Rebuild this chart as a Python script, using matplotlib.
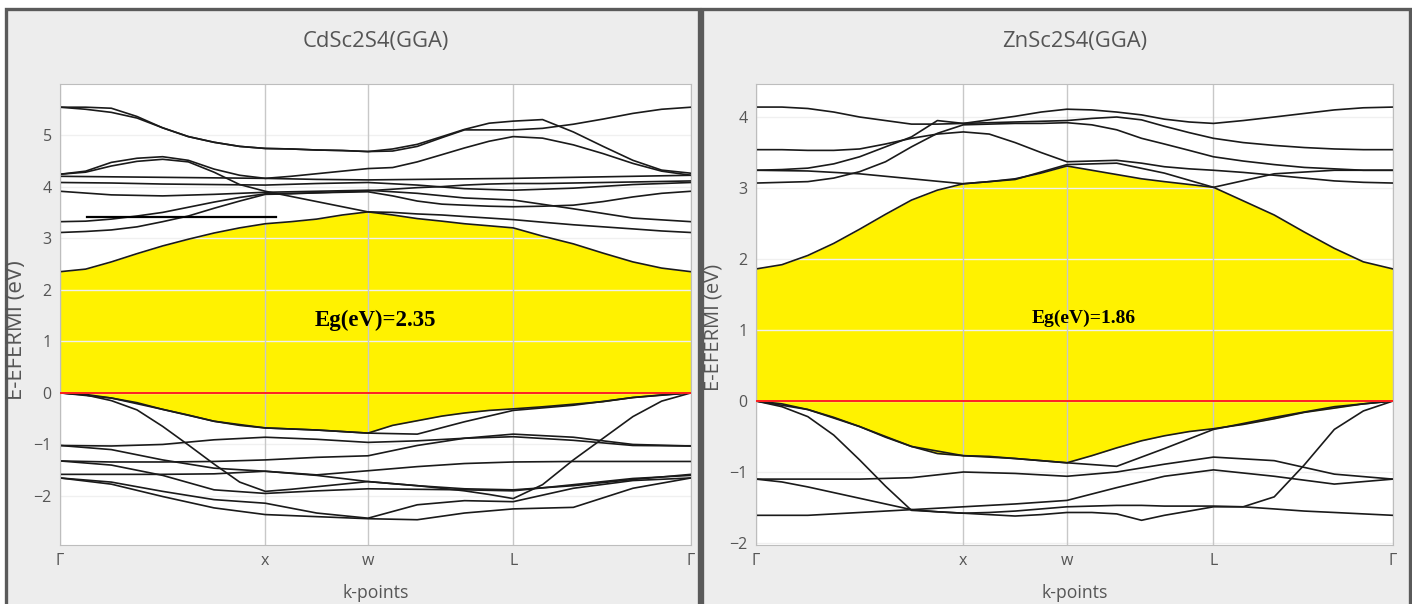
import matplotlib
matplotlib.use("Agg")
import matplotlib.pyplot as plt
from matplotlib.patches import Rectangle

# ---------------------------------------------------------------------------
# k-path (fcc): Γ - X - W - L - Γ, in units of 2π/a
kpath_labels = ["Γ", "x", "w", "L", "Γ"]
kpath_pos = [0.0, 1.0, 1.5, 2.207, 3.073]
# coarse sampling (13 points) and fine sampling (25 points) along the path
k_samples = [0.0, 0.25, 0.5, 0.75, 1.0, 1.25, 1.5, 1.74, 1.97, 2.207, 2.5, 2.79, 3.073]
k_fine = [0.0, 0.125, 0.25, 0.375, 0.5, 0.625, 0.75, 0.875, 1.0, 1.125, 1.25, 1.375,
          1.5, 1.62, 1.74, 1.86, 1.97, 2.09, 2.207, 2.35, 2.5, 2.645, 2.79, 2.93, 3.073]

# ---------------------------------------------------------------------------
# CdSc2S4 (GGA) band energies, E - E_F in eV
cd_cbm = [2.35, 2.40, 2.54, 2.70, 2.85, 2.98, 3.10, 3.20, 3.28, 3.32, 3.37, 3.45, 3.51,
          3.45, 3.38, 3.33, 3.28, 3.24, 3.20, 3.04, 2.89, 2.71, 2.54, 2.42, 2.35]
cd_vbm = [0.0, -0.03, -0.10, -0.19, -0.32, -0.43, -0.55, -0.63, -0.68, -0.70, -0.72, -0.75,
          -0.78, -0.63, -0.54, -0.45, -0.39, -0.34, -0.31, -0.27, -0.22, -0.17, -0.09, -0.04, 0.0]
cd_conduction = [
    [5.54, 5.54, 5.52, 5.36, 5.14, 4.97, 4.86, 4.78, 4.74, 4.73, 4.71, 4.70, 4.68,
     4.69, 4.78, 4.95, 5.10, 5.10, 5.10, 5.13, 5.21, 5.31, 5.42, 5.50, 5.54],
    [5.54, 5.50, 5.44, 5.33, 5.14, 4.97, 4.86, 4.78, 4.74, 4.73, 4.71, 4.70, 4.68,
     4.73, 4.82, 4.97, 5.11, 5.23, 5.27, 5.30, 5.06, 4.78, 4.51, 4.32, 4.26],
    [4.24, 4.30, 4.47, 4.55, 4.58, 4.51, 4.34, 4.22, 4.16, 4.20, 4.25, 4.30, 4.35,
     4.37, 4.48, 4.62, 4.75, 4.88, 4.97, 4.94, 4.81, 4.64, 4.45, 4.30, 4.22],
    [4.24, 4.28, 4.40, 4.49, 4.53, 4.48, 4.28, 4.04, 3.91, 3.81, 3.71, 3.61, 3.51,
     3.50, 3.47, 3.45, 3.42, 3.39, 3.36, 3.31, 3.26, 3.22, 3.18, 3.14, 3.11],
    [4.20, 4.19, 4.18, 4.17, 4.16, 4.14, 4.13, 4.14, 4.15, 4.16, 4.18, 4.20, 4.22],
    [4.08, 4.07, 4.05, 4.04, 4.03, 4.06, 4.08, 4.03, 3.96, 3.93, 3.97, 4.04, 4.08],
    [3.91, 3.84, 3.82, 3.85, 3.89, 3.91, 3.93, 3.87, 3.78, 3.74, 3.57, 3.39, 3.32],
    [3.32, 3.33, 3.37, 3.43, 3.50, 3.60, 3.70, 3.79, 3.86, 3.87, 3.88, 3.89, 3.90,
     3.82, 3.72, 3.66, 3.64, 3.62, 3.61, 3.62, 3.64, 3.71, 3.80, 3.87, 3.91],
    [3.11, 3.13, 3.16, 3.22, 3.32, 3.43, 3.58, 3.72, 3.85, 3.86, 3.88, 3.90, 3.92,
     3.95, 3.98, 4.00, 4.03, 4.05, 4.06, 4.06, 4.07, 4.08, 4.09, 4.10, 4.11],
]
cd_valence = [
    [0.0, -0.10, -0.32, -0.55, -0.68, -0.72, -0.78, -0.80, -0.56, -0.34, -0.24, -0.09, 0.0],
    [0.0, -0.04, -0.15, -0.33, -0.65, -1.01, -1.38, -1.73, -1.91, -1.87, -1.82, -1.77, -1.72,
     -1.76, -1.80, -1.85, -1.90, -1.97, -2.05, -1.78, -1.30, -0.88, -0.46, -0.16, 0.0],
    [-1.02, -1.03, -1.00, -0.91, -0.86, -0.90, -0.96, -0.93, -0.88, -0.85, -0.92, -1.02, -1.03],
    [-1.32, -1.34, -1.34, -1.33, -1.30, -1.25, -1.22, -1.02, -0.88, -0.80, -0.86, -1.00, -1.03],
    [-1.02, -1.10, -1.30, -1.46, -1.52, -1.59, -1.51, -1.43, -1.37, -1.34, -1.33, -1.33, -1.33],
    [-1.58, -1.58, -1.58, -1.57, -1.52, -1.60, -1.72, -1.80, -1.86, -1.88, -1.80, -1.68, -1.58],
    [-1.32, -1.40, -1.60, -1.88, -1.95, -1.90, -1.86, -1.87, -1.88, -1.90, -1.78, -1.66, -1.60],
    [-1.65, -1.73, -1.91, -2.07, -2.14, -2.33, -2.43, -2.17, -2.09, -2.11, -1.85, -1.70, -1.65],
    [-1.65, -1.77, -2.01, -2.23, -2.36, -2.40, -2.44, -2.46, -2.33, -2.25, -2.22, -1.85, -1.65],
]
# stray horizontal stroke in the CdSc2S4 panel: k from, k to, energy
cd_stroke = [0.13, 1.05, 3.42]
cd_gap = 2.35

# ---------------------------------------------------------------------------
# ZnSc2S4 (GGA)
zn_cbm = [1.86, 1.92, 2.05, 2.22, 2.42, 2.63, 2.83, 2.97, 3.06, 3.09, 3.13, 3.21, 3.31,
          3.25, 3.19, 3.13, 3.09, 3.05, 3.01, 2.82, 2.62, 2.38, 2.15, 1.96, 1.86]
zn_vbm = [0.0, -0.04, -0.12, -0.23, -0.36, -0.51, -0.64, -0.74, -0.77, -0.78, -0.81, -0.84,
          -0.87, -0.77, -0.66, -0.56, -0.49, -0.43, -0.39, -0.33, -0.25, -0.16, -0.10, -0.04, 0.0]
zn_conduction = [
    [4.14, 4.14, 4.12, 4.07, 4.00, 3.95, 3.90, 3.90, 3.91, 3.96, 4.01, 4.07, 4.11,
     4.10, 4.07, 4.03, 3.97, 3.93, 3.91, 3.95, 4.00, 4.05, 4.10, 4.13, 4.14],
    [3.25, 3.26, 3.28, 3.34, 3.44, 3.58, 3.72, 3.95, 3.91, 3.92, 3.93, 3.94, 3.95,
     3.98, 4.00, 3.96, 3.87, 3.78, 3.70, 3.64, 3.60, 3.57, 3.55, 3.54, 3.54],
    [3.07, 3.08, 3.09, 3.14, 3.23, 3.37, 3.58, 3.77, 3.89, 3.90, 3.91, 3.91, 3.92,
     3.89, 3.82, 3.70, 3.62, 3.53, 3.44, 3.38, 3.33, 3.29, 3.27, 3.25, 3.25],
    [3.54, 3.54, 3.53, 3.53, 3.55, 3.62, 3.70, 3.76, 3.79, 3.76, 3.64, 3.50, 3.37,
     3.38, 3.39, 3.35, 3.30, 3.27, 3.25, 3.22, 3.18, 3.14, 3.10, 3.08, 3.07],
    [3.25, 3.24, 3.20, 3.13, 3.06, 3.12, 3.33, 3.35, 3.21, 3.01, 3.20, 3.25, 3.25],
]
zn_valence = [
    [0.0, -0.12, -0.36, -0.64, -0.77, -0.81, -0.87, -0.92, -0.67, -0.40, -0.23, -0.08, 0.0],
    [0.0, -0.08, -0.22, -0.48, -0.83, -1.20, -1.54, -1.56, -1.58, -1.60, -1.62, -1.60, -1.57,
     -1.57, -1.59, -1.68, -1.61, -1.55, -1.49, -1.49, -1.35, -0.90, -0.40, -0.14, 0.0],
    [-1.10, -1.10, -1.10, -1.08, -1.00, -1.02, -1.06, -1.00, -0.89, -0.79, -0.84, -1.03, -1.10],
    [-1.10, -1.14, -1.21, -1.29, -1.37, -1.45, -1.53, -1.56, -1.58, -1.57, -1.55, -1.52, -1.49,
     -1.48, -1.47, -1.47, -1.48, -1.48, -1.48, -1.49, -1.52, -1.55, -1.57, -1.59, -1.61],
    [-1.61, -1.61, -1.57, -1.53, -1.49, -1.45, -1.40, -1.22, -1.06, -0.97, -1.06, -1.17, -1.10],
]
zn_gap = 1.86

# ---------------------------------------------------------------------------
W, H = 1412, 604
fig = plt.figure(figsize=(W / 100, H / 100), dpi=100)
fig.patch.set_facecolor("white")

FONT = "Open Sans"
GRAY_TXT = "#555555"


def fx(px):
    return px / W


def fy(py):
    return 1 - py / H


def kgrid(band):
    return k_fine if len(band) == len(k_fine) else k_samples


def panel_box(x0, x1):
    fig.add_artist(Rectangle((fx(x0), fy(640)), fx(x1) - fx(x0), fy(9) - fy(640),
                             transform=fig.transFigure, facecolor="#ededed",
                             edgecolor="#5a5a5a", linewidth=2.4, zorder=0))


def draw_panel(px_left, px_right, title, cbm, vbm, conduction, valence,
               ylim, yticks, gap, gap_xy, gap_size, ylabel_x, ylabel_y, ylabel_size,
               stroke=None):
    top, bottom = 84, 545
    ax = fig.add_axes([fx(px_left), fy(bottom), fx(px_right) - fx(px_left),
                       fy(top) - fy(bottom)])
    ax.set_facecolor("white")
    ax.set_xlim(kpath_pos[0], kpath_pos[-1])
    ax.set_ylim(*ylim)

    # band-gap region between valence maximum and conduction minimum
    ax.fill_between(k_fine, vbm, cbm, color="#fff200", linewidth=0, zorder=1)

    # grid
    for y in yticks:
        ax.axhline(y, color="#f0f0f0", linewidth=1.0, zorder=1.5)
    for k in kpath_pos:
        ax.axvline(k, color="#c8c8c8", linewidth=1.0, zorder=1.6)

    # bands
    for band in [cbm, vbm] + conduction + valence:
        ax.plot(kgrid(band), band, color="#1a1a1a", linewidth=1.2, zorder=2,
                solid_joinstyle="round")
    if stroke is not None:
        ax.plot([stroke[0], stroke[1]], [stroke[2], stroke[2]], color="black",
                linewidth=1.6, zorder=2)

    # Fermi level
    ax.axhline(0.0, color="#ff2020", linewidth=1.4, zorder=3)

    for s in ax.spines.values():
        s.set_color("#bdbdbd")
        s.set_linewidth(0.8)

    ax.set_xticks(kpath_pos)
    ax.set_xticklabels(kpath_labels)
    ax.set_yticks(yticks)
    ax.set_yticklabels([str(v).replace("-", "\u2212") for v in yticks])
    ax.tick_params(length=0, labelsize=11.5, colors=GRAY_TXT, pad=6)
    for lab in ax.get_xticklabels() + ax.get_yticklabels():
        lab.set_fontfamily(FONT)

    ax.text(gap_xy[0], gap_xy[1], f"Eg(eV)={gap:.2f}", fontsize=gap_size,
            fontweight="bold", family="Liberation Serif", ha="center",
            va="center", zorder=4)

    cx = (px_left + px_right) / 2
    fig.text(fx(cx), fy(42), title, fontsize=15.8, family=FONT, color=GRAY_TXT,
             ha="center", va="center")
    fig.text(fx(cx), fy(593), "k-points", fontsize=12.7, family=FONT,
             color=GRAY_TXT, ha="center", va="center")
    fig.text(fx(ylabel_x), fy(ylabel_y), "E-EFERMI (eV)", fontsize=ylabel_size,
             family=FONT, color=GRAY_TXT, ha="center", va="center",
             rotation=90)
    return ax


panel_box(6, 699)
panel_box(702, 1410)

draw_panel(60, 691, "CdSc2S4(GGA)", cd_cbm, cd_vbm, cd_conduction, cd_valence,
           (-2.95, 5.99), [-2, -1, 0, 1, 2, 3, 4, 5], cd_gap, (1.534, 1.40), 16.5,
           17, 330, 16, stroke=cd_stroke)
draw_panel(756, 1393, "ZnSc2S4(GGA)", zn_cbm, zn_vbm, zn_conduction, zn_valence,
           (-2.028, 4.465), [-2, -1, 0, 1, 2, 3, 4], zn_gap, (1.582, 1.17), 14,
           714, 327, 14.5)

fig.savefig("out.png", dpi=100, facecolor=fig.get_facecolor())
